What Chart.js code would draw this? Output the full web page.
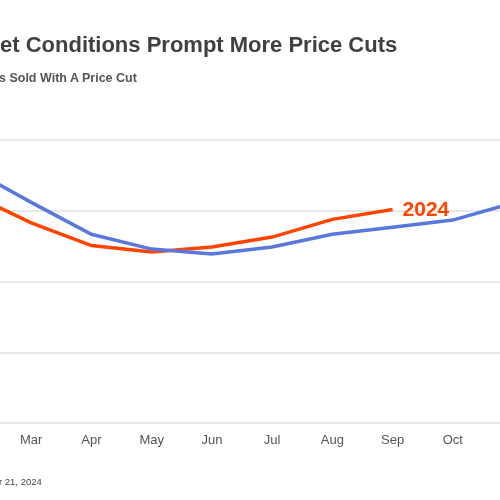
<!DOCTYPE html>
<html>
<head>
<meta charset="utf-8">
<script src="https://cdn.jsdelivr.net/npm/chart.js@4/dist/chart.umd.min.js"></script>
<style>
  html, body { margin: 0; padding: 0; width: 500px; height: 500px; overflow: hidden; background: #fff; position: relative; font-family: "Liberation Sans", Arial, sans-serif; }
  #wrap { position: absolute; left: -100px; top: 0; width: 700px; height: 500px; }
  .t { position: absolute; white-space: nowrap; }
  #title { left: 0px; top: 32px; font-size: 22px; font-weight: bold; color: #404040; line-height: 26px; }
  #sub { left: -1px; top: 70px; font-size: 12.5px; font-weight: bold; color: #555; line-height: 16px; }
  #foot { left: -1px; top: 476px; font-size: 9.5px; color: #444; line-height: 12px; }
</style>
</head>
<body>
<div id="wrap"><canvas id="c"></canvas></div>
<div class="t" id="title">et Conditions Prompt More Price Cuts</div>
<div class="t" id="sub">s Sold With A Price Cut</div>
<div class="t" id="foot">r 21, 2024</div>
<script>
const months = ["Feb", "Mar", "Apr", "May", "Jun", "Jul", "Aug", "Sep", "Oct", "Nov"];
const prevYear = [35.9, 31.2, 26.7, 24.6, 23.9, 24.9, 26.7, 27.7, 28.7, 31.1];
const year2024 = [32.4, 28.3, 25.1, 24.2, 24.9, 26.3, 28.8, 30.2];
const yTicks = [0, 10, 20, 30, 40];

const endLabel = {
  id: 'endLabel',
  afterDatasetsDraw(chart) {
    const ctx = chart.ctx;
    const ds = chart.data.datasets[1];
    const meta = chart.getDatasetMeta(1);
    const pt = meta.data[ds.data.length - 1];
    ctx.save();
    ctx.font = 'bold 21px "Liberation Sans", Arial, sans-serif';
    ctx.fillStyle = ds.borderColor;
    ctx.textBaseline = 'middle';
    ctx.fillText(ds.label, pt.x + 10, pt.y + 1);
    ctx.restore();
  }
};

new Chart(document.getElementById('c'), {
  type: 'line',
  data: {
    labels: months,
    datasets: [
      { label: '2023', data: prevYear, borderColor: '#5a78dc', borderWidth: 3.5, pointRadius: 0, tension: 0, fill: false },
      { label: '2024', data: year2024, borderColor: '#ff4500', borderWidth: 3.5, pointRadius: 0, tension: 0, fill: false }
    ]
  },
  options: {
    responsive: true,
    maintainAspectRatio: false,
    animation: false,
    layout: { padding: { left: 71, right: 87, top: 140, bottom: 51 } },
    plugins: { legend: { display: false }, tooltip: { enabled: false }, title: { display: false } },
    scales: {
      x: {
        offset: false,
        grid: { display: false },
        border: { display: false },
        ticks: { color: '#555', font: { size: 13, family: '"Liberation Sans", Arial, sans-serif' }, padding: 1, maxRotation: 0, autoSkip: false }
      },
      y: {
        min: yTicks[0],
        max: yTicks[yTicks.length - 1],
        afterBuildTicks(axis) { axis.ticks = yTicks.map(v => ({ value: v })); },
        grid: { color: '#e8e8e8', lineWidth: 2, drawTicks: false },
        border: { display: false },
        ticks: { display: false }
      }
    }
  },
  plugins: [endLabel]
});
</script>
</body>
</html>
